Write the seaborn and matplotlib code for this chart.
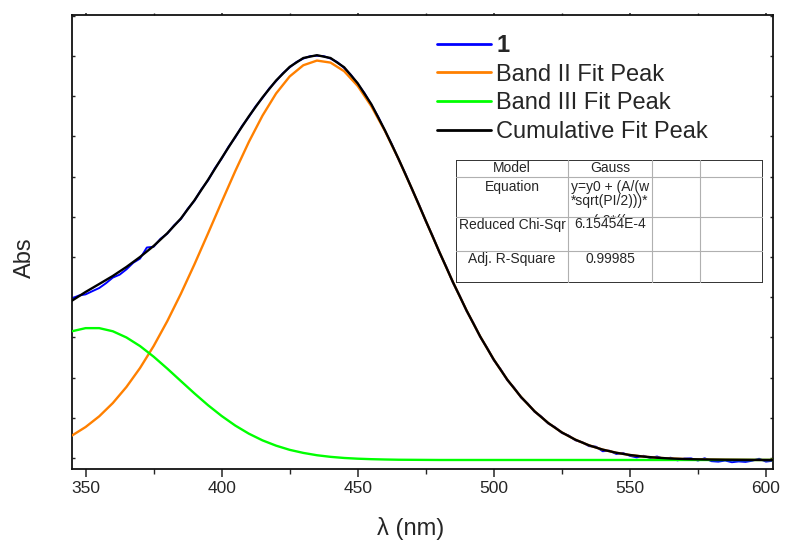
import numpy as np
import pandas as pd
import matplotlib
matplotlib.use("Agg")
import matplotlib.pyplot as plt
from matplotlib.patches import Rectangle
from matplotlib.transforms import Bbox
import seaborn as sns

# ---------------- data ----------------
wl_fit = [345, 350, 355, 360, 365, 370, 375, 380, 385, 390, 395, 400, 405, 410,
          415, 420, 425, 430, 435, 440, 445, 450, 455, 460, 465, 470, 475, 480,
          485, 490, 495, 500, 505, 510, 515, 520, 525, 530, 535, 540, 545, 550,
          555, 560, 565, 570, 575, 580, 585, 590, 595, 600, 605]

band2 = [0.0279, 0.0385, 0.0518, 0.0683, 0.0883, 0.1119, 0.1392, 0.1701, 0.2042,
         0.2409, 0.2794, 0.3185, 0.3569, 0.3932, 0.4258, 0.4534, 0.4746, 0.4885,
         0.4943, 0.4918, 0.4811, 0.4627, 0.4375, 0.4067, 0.3717, 0.3340, 0.2950,
         0.2562, 0.2186, 0.1834, 0.1511, 0.1223, 0.0972, 0.0759, 0.0580, 0.0435,
         0.0318, 0.0227, 0.0157, 0.0104, 0.0065, 0.0037, 0.0017, 0.0003, -0.0007,
         -0.0013, -0.0017, -0.0020, -0.0022, -0.0023, -0.0024, -0.0025, -0.0025]

band3 = [0.1576, 0.1615, 0.1615, 0.1576, 0.1499, 0.1392, 0.1260, 0.1112, 0.0957,
         0.0803, 0.0656, 0.0522, 0.0403, 0.0302, 0.0219, 0.0153, 0.0101, 0.0063,
         0.0034, 0.0014, 0.0000, -0.0009, -0.0015, -0.0019, -0.0022, -0.0023,
         -0.0024, -0.0025, -0.0025, -0.0025, -0.0025, -0.0025, -0.0025, -0.0025,
         -0.0025, -0.0025, -0.0025, -0.0025, -0.0025, -0.0025, -0.0025, -0.0025,
         -0.0025, -0.0025, -0.0025, -0.0025, -0.0025, -0.0025, -0.0025, -0.0025,
         -0.0025, -0.0025, -0.0025]

cumulative = [0.1957, 0.2065, 0.2164, 0.2264, 0.2376, 0.2500, 0.2637, 0.2795, 0.2978,
              0.3205, 0.3460, 0.3730, 0.3995, 0.4250, 0.4485, 0.4695, 0.4865, 0.4975,
              0.5010, 0.4975, 0.4860, 0.4660, 0.4400, 0.4075, 0.3720, 0.3342, 0.2951,
              0.2563, 0.2186, 0.1834, 0.1511, 0.1223, 0.0972, 0.0759, 0.0580, 0.0435,
              0.0318, 0.0227, 0.0157, 0.0104, 0.0065, 0.0037, 0.0017, 0.0003, -0.0007,
              -0.0013, -0.0017, -0.0020, -0.0022, -0.0023, -0.0024, -0.0025, -0.0025]

wl_data = [345.0, 347.5, 350.0, 352.5, 355.0, 357.5, 360.0, 362.5, 365.0, 367.5,
           370.0, 372.5, 375.0, 377.5, 380.0, 382.5, 385.0, 387.5, 390.0, 392.5,
           395.0, 397.5, 400.0, 402.5, 405.0, 407.5, 410.0, 412.5, 415.0, 417.5,
           420.0, 422.5, 425.0, 427.5, 430.0, 432.5, 435.0, 437.5, 440.0, 442.5,
           445.0, 447.5, 450.0, 452.5, 455.0, 457.5, 460.0, 462.5, 465.0, 467.5,
           470.0, 472.5, 475.0, 477.5, 480.0, 482.5, 485.0, 487.5, 490.0, 492.5,
           495.0, 497.5, 500.0, 502.5, 505.0, 507.5, 510.0, 512.5, 515.0, 517.5,
           520.0, 522.5, 525.0, 527.5, 530.0, 532.5, 535.0, 537.5, 540.0, 542.5,
           545.0, 547.5, 550.0, 552.5, 555.0, 557.5, 560.0, 562.5, 565.0, 567.5,
           570.0, 572.5, 575.0, 577.5, 580.0, 582.5, 585.0, 587.5, 590.0, 592.5,
           595.0, 597.5, 600.0, 602.5]

abs_data = [0.1985, 0.2020, 0.2035, 0.2075, 0.2114, 0.2174, 0.2244, 0.2280, 0.2346, 0.2428,
            0.2480, 0.2618, 0.2627, 0.2726, 0.2790, 0.2893, 0.2972, 0.3098, 0.3200, 0.3340,
            0.3453, 0.3603, 0.3724, 0.3870, 0.3988, 0.4130, 0.4243, 0.4375, 0.4478, 0.4597,
            0.4688, 0.4786, 0.4858, 0.4926, 0.4968, 0.4998, 0.5003, 0.4998, 0.4968, 0.4924,
            0.4852, 0.4766, 0.4652, 0.4538, 0.4392, 0.4245, 0.4068, 0.3905, 0.3713, 0.3538,
            0.3335, 0.3154, 0.2945, 0.2764, 0.2556, 0.2381, 0.2180, 0.2016, 0.1828, 0.1678,
            0.1505, 0.1373, 0.1217, 0.1104, 0.0966, 0.0872, 0.0753, 0.0676, 0.0574, 0.0514,
            0.0429, 0.0383, 0.0312, 0.0279, 0.0220, 0.0196, 0.0147, 0.0141, 0.0084, 0.0090,
            0.0050, 0.0061, 0.0027, 0.0007, 0.0027, 0.0000, 0.0018, -0.0012, 0.0003, -0.0030,
            -0.0008, -0.0005, -0.0032, -0.0004, -0.0040, -0.0046, -0.0032, -0.0053, -0.0043, -0.0049,
            -0.0034, -0.0010, -0.0045, -0.0035]

series_labels = ["1", "Band II Fit Peak", "Band III Fit Peak", "Cumulative Fit Peak"]
series_colors = ["#0000FF", "#FF8000", "#00FF00", "#000000"]

x_major = [350, 400, 450, 500, 550, 600]
x_minor = [375, 425, 475, 525, 575]
y_ticks = [0.00, 0.05, 0.10, 0.15, 0.20, 0.25, 0.30, 0.35, 0.40, 0.45, 0.50, 0.55]

table_rows = [["Model", "Gauss"],
              ["Equation", "y=y0 + (A/(w\n*sqrt(PI/2)))*\nexp(-2*((x-xc"],
              ["Reduced Chi-Sqr", "6.15454E-4"],
              ["Adj. R-Square", "0.99985"]]

# ---------------- style ----------------
sns.set_style("ticks")
plt.rcParams["font.family"] = ["Liberation Sans", "DejaVu Sans"]

W, H = 787, 545
fig = plt.figure(figsize=(W / 100, H / 100), dpi=100)
ax = fig.add_axes([72 / W, 1 - 468.5 / H, 701 / W, 453.5 / H])

df_data = pd.DataFrame({"wl": wl_data, "abs": abs_data})
df_fit = pd.DataFrame({"wl": wl_fit, "b2": band2, "b3": band3, "cum": cumulative})

sns.lineplot(data=df_data, x="wl", y="abs", ax=ax, color=series_colors[0],
             lw=1.4, label=series_labels[0], zorder=2)
sns.lineplot(data=df_fit, x="wl", y="b2", ax=ax, color=series_colors[1],
             lw=1.7, label=series_labels[1], zorder=3)
sns.lineplot(data=df_fit, x="wl", y="b3", ax=ax, color=series_colors[2],
             lw=1.7, label=series_labels[2], zorder=3)
sns.lineplot(data=df_fit, x="wl", y="cum", ax=ax, color=series_colors[3],
             lw=1.7, label=series_labels[3], zorder=4)

ax.set_xlim(345, 602.6)
ax.set_ylim(-0.0131, 0.551)
ax.set_xticks(x_major)
ax.set_xticks(x_minor, minor=True)
ax.set_yticks(y_ticks)
ax.tick_params(axis="y", labelleft=False, left=True, right=True, direction="in",
               length=2.5, width=1.0)
ax.tick_params(axis="x", which="major", direction="out", length=6, width=1.1,
               labelsize=12.5, pad=3, top=True)
ax.tick_params(axis="x", which="minor", direction="out", length=3.5, width=1.0, top=True)
for t in ax.xaxis.get_major_ticks() + ax.xaxis.get_minor_ticks():
    t.tick2line.set_markersize(1.5)
for sp in ax.spines.values():
    sp.set_linewidth(1.3)
    sp.set_color("#111111")

ax.set_xlabel("λ (nm)", fontsize=17)
ax.set_ylabel("Abs", fontsize=17)
ax.xaxis.set_label_coords(0.483, -0.106)
ax.yaxis.set_label_coords(-0.052, 0.464)

leg = ax.legend(loc="upper left", bbox_to_anchor=(437 / W, 1 - 34 / H),
                bbox_transform=fig.transFigure, frameon=False, fontsize=17,
                handlelength=2.3, handletextpad=0.22, labelspacing=0.28,
                borderpad=0, borderaxespad=0)
leg.get_texts()[0].set_fontweight("bold")
for h in leg.get_lines():
    h.set_linewidth(2.0)

# ---------------- results table ----------------
tx0, ty0, tw, th = 456, 160, 307, 123
axt = fig.add_axes([tx0 / W, 1 - (ty0 + th) / H, tw / W, th / H])
axt.set_xlim(0, tw)
axt.set_ylim(th, 0)
axt.axis("off")
col_x = [0, 112, 196, 244, tw]
row_y = [0, 17, 57, 91, th]
for cx in col_x[1:-1]:
    axt.plot([cx, cx], [0, th], color="#b0b0b0", lw=0.8)
for ry in row_y[1:-1]:
    axt.plot([0, tw], [ry, ry], color="#b0b0b0", lw=0.8)
axt.add_patch(Rectangle((0, 0), tw, th, fill=False, edgecolor="#333333", lw=1.4))

fs_t = 10
text_y = [8.5, 27.0, 64.5, 99.0]
# equation cell clip box, in output pixels (origin bottom-left)
eq_clip = Bbox([[tx0 + col_x[1], H - (ty0 + row_y[2])],
                [tx0 + col_x[2], H - (ty0 + row_y[1])]])
for i, (k, v) in enumerate(table_rows):
    axt.text(56, text_y[i], k, ha="center", va="center", fontsize=fs_t)
    if i == 1:
        line_y = [27.5, 41.5, 61.5]
        for j, line in enumerate(v.split("\n")):
            t = axt.text(115, line_y[j], line, ha="left", va="center", fontsize=fs_t)
            t.set_clip_box(eq_clip)
            t.set_clip_on(True)
    else:
        axt.text(154, text_y[i], v, ha="center", va="center", fontsize=fs_t)

fig.savefig("out.png", dpi=100)
